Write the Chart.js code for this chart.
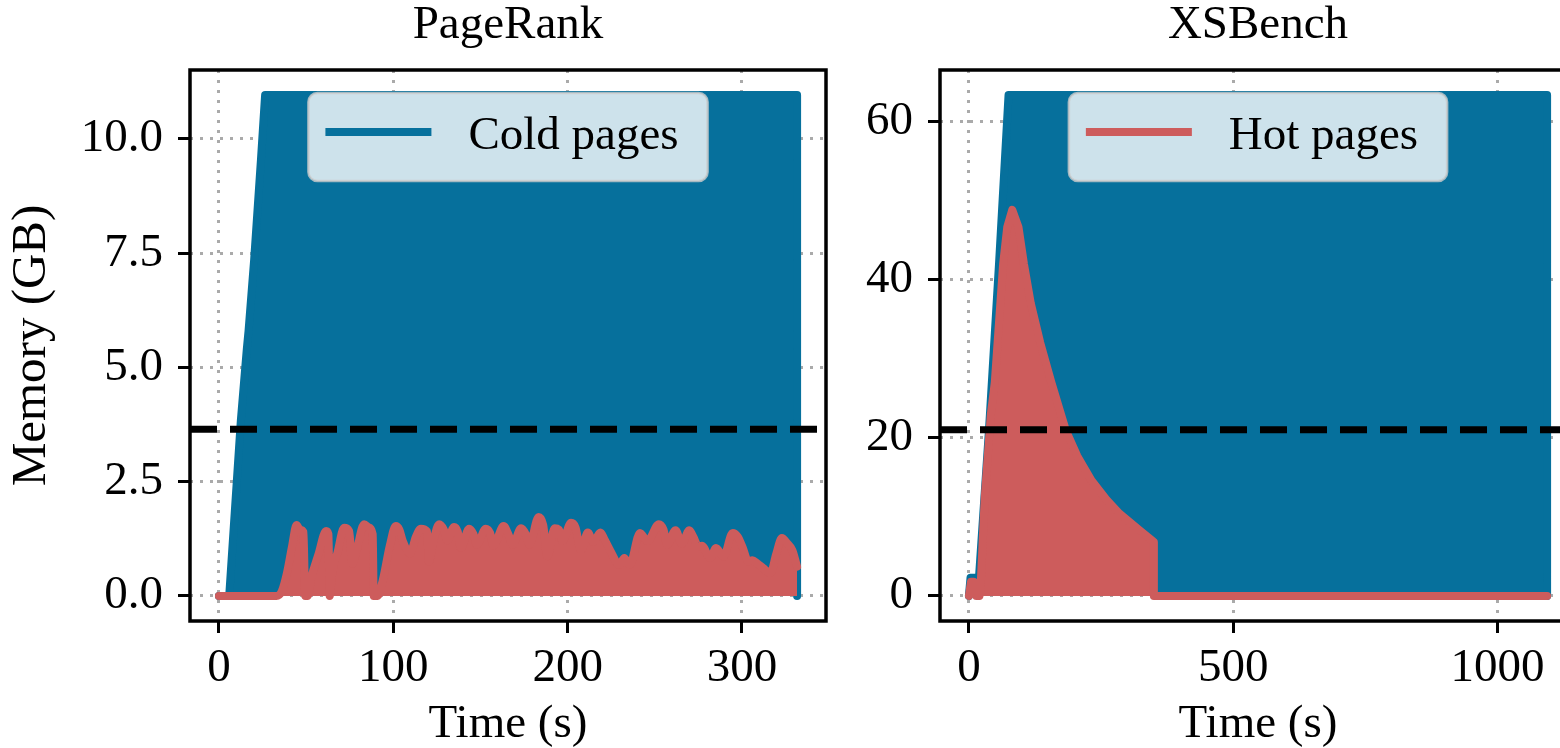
<!DOCTYPE html>
<html><head><meta charset="utf-8">
<script src="https://cdn.jsdelivr.net/npm/chart.js@4.4.1/dist/chart.umd.min.js"></script>
<style>
html,body{margin:0;padding:0;background:#fff;overflow:hidden;width:1560px;height:748px;position:relative;}
#c1{position:absolute;left:0;top:0;}
#c2{position:absolute;left:840px;top:0;}
</style></head><body>
<canvas id="c1" width="834" height="748"></canvas>
<canvas id="c2" width="744" height="748"></canvas>
<script>
// ---------- data ----------
const seriesLabels = ['Cold pages', 'Hot pages'];
const yAxisTitle = 'Memory (GB)';
const xAxisTitle = 'Time (s)';

// PageRank
const prTitle = 'PageRank';
const prColdTime = [0, 5.9, 12.6, 16, 17, 20.2, 24.1, 26.5, 331.6, 331.6];
const prColdGB   = [0, 0, 3.85, 5.4, 5.8, 7.35, 9.54, 10.96, 10.96, 0];
const prHotTime = [0, 33, 36, 39, 42, 44.5, 46.5, 48.5, 49.5, 51, 53, 57, 61.5, 62.8, 63.5, 65, 68, 71.8, 74.7, 76.5, 79, 83.3, 86, 88.2, 88.8, 91, 94, 98, 101.4, 103.5, 105.5, 109.6, 113, 115.8, 119.4, 120.4, 123, 126.3, 129, 131, 134.9, 137, 138.7, 143.5, 146, 147.9, 153, 155.5, 157.4, 163.3, 166, 168.5, 173.3, 176, 178.1, 183.4, 186, 188.4, 192.5, 195, 197, 202, 204.5, 207.6, 211.6, 214.7, 218.8, 221, 224.8, 229.6, 232.5, 235.6, 241.5, 245.8, 252.3, 255, 257.1, 261.9, 265.5, 269.8, 272, 275.1, 277, 281.8, 285.1, 289.4, 294.7, 297.5, 300.2, 303.7, 306, 308.5, 312.1, 316.4, 319.5, 322.9, 326, 328.9, 331.6];
const prHotGB   = [0, 0, 0.1, 0.5, 1.1, 1.55, 1.45, 1.4, 0, 0, 0.4, 0.9, 1.42, 1.35, 0, 0.5, 0.95, 1.49, 1.42, 0.7, 1.0, 1.57, 1.5, 1.35, 0, 0, 0.35, 1.1, 1.53, 1.45, 1.2, 0.93, 1.3, 1.47, 1.41, 0.75, 1.2, 1.57, 1.45, 1.22, 1.51, 1.4, 1.05, 1.47, 1.35, 1.12, 1.47, 1.38, 1.1, 1.53, 1.35, 1.12, 1.48, 1.35, 1.12, 1.73, 1.55, 0.86, 1.48, 1.45, 1.2, 1.6, 1.5, 1.0, 1.39, 1.18, 1.39, 1.25, 0.97, 0.68, 0.83, 0.68, 1.38, 1.2, 1.57, 1.45, 1.12, 1.44, 1.14, 1.44, 1.3, 1.08, 1.1, 0.83, 1.05, 0.86, 1.38, 1.3, 1.08, 0.75, 0.78, 0.72, 0.61, 0.5, 0.9, 1.27, 1.15, 1.0, 0.64];
const prThresholdGB = 3.65;
const prXTicks = [0, 100, 200, 300];
const prYTicks = [0, 2.5, 5, 7.5, 10];

// XSBench
const xsTitle = 'XSBench';
const xsColdTime = [0, 3, 19, 38, 57, 75, 1094, 1094];
const xsColdGB   = [0, 2.3, 2.3, 21, 42, 63.3, 63.3, 0];
const xsHotTime = [0, 4, 9, 14, 20, 22, 30, 41.6, 49, 64.8, 72.5, 82, 93.8, 104, 117, 135, 156, 183, 205, 232, 260, 285, 323, 347, 350, 350, 1094];
const xsHotGB   = [0, 1.8, 1.8, 0, 0, 1, 12.5, 23, 27, 42, 46.6, 48.8, 46.6, 42, 37, 32, 27, 21, 17.7, 14.6, 12.2, 10.4, 8.3, 7.0, 6.8, 0, 0];
const xsThresholdGB = 21;
const xsXTicks = [0, 500, 1000];
const xsYTicks = [0, 20, 40, 60];

// ---------- styling ----------
const BLUE = '#06709c';
const RED = '#cd5c5c';
const FONT = '"Liberation Serif", "Times New Roman", serif';
const FS = 47;
Chart.defaults.font.family = FONT;
Chart.defaults.font.size = FS;
Chart.defaults.color = '#000';

const zip = (t, v) => t.map((x, i) => ({x: x, y: v[i]}));

function roundRect(ctx, x, y, w, h, r) {
  ctx.beginPath();
  ctx.moveTo(x + r, y);
  ctx.lineTo(x + w - r, y); ctx.arcTo(x + w, y, x + w, y + r, r);
  ctx.lineTo(x + w, y + h - r); ctx.arcTo(x + w, y + h, x + w - r, y + h, r);
  ctx.lineTo(x + r, y + h); ctx.arcTo(x, y + h, x, y + h - r, r);
  ctx.lineTo(x, y + r); ctx.arcTo(x, y, x + r, y, r);
  ctx.closePath();
}

const decor = {
  id: 'decor',
  afterDatasetsDraw(chart, args, opts) {
    const {ctx, chartArea: a, scales: {y}} = chart;
    ctx.save();
    // threshold line
    ctx.beginPath(); ctx.rect(a.left, a.top, a.right - a.left, a.bottom - a.top); ctx.clip();
    const yy = y.getPixelForValue(opts.threshold);
    ctx.strokeStyle = '#000'; ctx.lineWidth = 7; ctx.setLineDash([27, 13]);
    ctx.beginPath(); ctx.moveTo(a.left, yy); ctx.lineTo(a.right, yy); ctx.stroke();
    ctx.setLineDash([]);
    // legend
    const ds = chart.data.datasets[opts.legendIndex];
    ctx.font = FS + 'px ' + FONT;
    const tw = ctx.measureText(ds.label).width;
    const padL = 17, lineLen = 106, gap = 37, padR = 29, h = 88;
    const w = padL + lineLen + gap + tw + padR;
    const bx = (a.left + a.right) / 2 - w / 2, by = a.top + 23;
    roundRect(ctx, bx, by, w, h, 9);
    ctx.fillStyle = 'rgba(255,255,255,0.8)'; ctx.fill();
    ctx.lineWidth = 2.5; ctx.strokeStyle = 'rgba(204,204,204,0.8)'; ctx.stroke();
    ctx.strokeStyle = ds.borderColor; ctx.lineWidth = 8; ctx.lineCap = 'butt';
    ctx.beginPath(); ctx.moveTo(bx + padL, by + 39); ctx.lineTo(bx + padL + lineLen, by + 39); ctx.stroke();
    ctx.fillStyle = '#000'; ctx.textBaseline = 'alphabetic'; ctx.textAlign = 'left';
    ctx.fillText(ds.label, bx + padL + lineLen + gap, by + 56);
    ctx.restore();
    // frame
    ctx.save();
    ctx.strokeStyle = '#000'; ctx.lineWidth = 3.5;
    ctx.strokeRect(a.left, a.top, a.right - a.left, a.bottom - a.top);
    ctx.restore();
  }
};

function makeChart(id, title, coldT, coldV, hotT, hotV, threshold, xTicks, yTicks, yDigits, yAxisW, smoothHot, showYTitle, legendIndex) {
  const maxT = Math.max(...coldT, ...hotT);
  const maxV = Math.max(...coldV, ...hotV);
  const xMin = -0.05 * maxT, xMax = 1.05 * maxT;
  const yMin = -0.05 * maxV, yMax = 1.05 * maxV;
  const lineDs = (label, t, v, color, order, smooth) => ({
    label: label, data: zip(t, v), borderColor: color, backgroundColor: color,
    borderWidth: 8, pointRadius: 0, fill: 'origin', order: order,
    tension: smooth ? 0.4 : 0, cubicInterpolationMode: smooth ? 'monotone' : 'default',
    borderJoinStyle: 'round', borderCapStyle: 'round'
  });
  const gridOpts = {color: '#aaaaaa', lineWidth: 3, drawTicks: true, tickLength: 12, tickWidth: 3, tickColor: '#000'};
  return new Chart(document.getElementById(id), {
    type: 'line',
    data: {datasets: [
      lineDs(seriesLabels[0], coldT, coldV, BLUE, 2, false),
      lineDs(seriesLabels[1], hotT, hotV, RED, 1, smoothHot)
    ]},
    options: {
      responsive: false, animation: false, devicePixelRatio: 1,
      layout: {padding: {left: 0, right: 8, top: 0, bottom: 0}},
      plugins: {
        legend: {display: false}, tooltip: {enabled: false},
        title: {display: true, text: title, fullSize: false, color: '#000',
                font: {size: FS, weight: 'normal', lineHeight: 1}, padding: {top: 2.6, bottom: 20.4}},
        decor: {threshold: threshold, legendIndex: legendIndex}
      },
      scales: {
        x: {
          type: 'linear', min: xMin, max: xMax,
          afterBuildTicks: s => { s.ticks = xTicks.map(v => ({value: v})); },
          afterFit: s => { s.height = 127; },
          ticks: {maxRotation: 0, autoSkip: false, padding: 7, color: '#000', font: {size: FS},
                  callback: v => String(v)},
          grid: gridOpts,
          border: {display: false, dash: [3, 7]},
          title: {display: true, text: xAxisTitle, color: '#000', font: {size: FS, lineHeight: 1}, padding: {top: 0, bottom: 0}}
        },
        y: {
          type: 'linear', min: yMin, max: yMax,
          afterBuildTicks: s => { s.ticks = yTicks.map(v => ({value: v})); },
          afterFit: s => { s.width = yAxisW; },
          ticks: {autoSkip: false, padding: 15, color: '#000', font: {size: FS},
                  callback: v => Number(v).toFixed(yDigits)},
          grid: gridOpts,
          border: {display: false, dash: [3, 7]},
          title: {display: showYTitle, text: yAxisTitle, color: '#000', font: {size: 49, lineHeight: 1}, padding: {top: 8, bottom: 0}}
        }
      }
    },
    plugins: [decor]
  });
}

makeChart('c1', prTitle, prColdTime, prColdGB, prHotTime, prHotGB, prThresholdGB, prXTicks, prYTicks, 1, 190, true, true, 0);
makeChart('c2', xsTitle, xsColdTime, xsColdGB, xsHotTime, xsHotGB, xsThresholdGB, xsXTicks, xsYTicks, 0, 100, false, false, 1);
</script>
</body></html>
